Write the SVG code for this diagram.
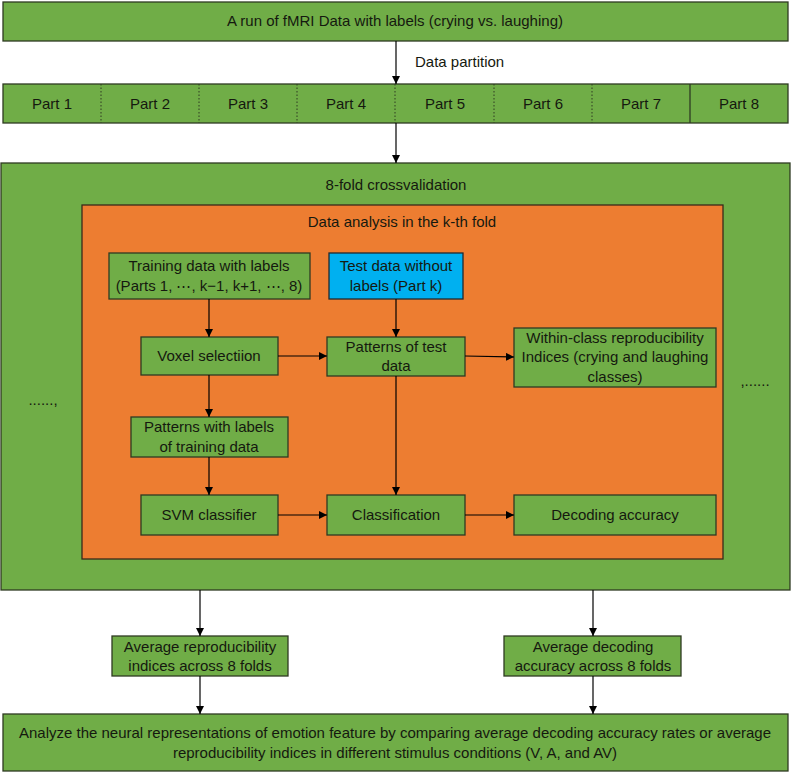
<svg xmlns="http://www.w3.org/2000/svg" width="792" height="774" viewBox="0 0 792 774">
<defs>
<marker id="ah" viewBox="0 0 10 10" refX="10" refY="5" markerWidth="8" markerHeight="8" markerUnits="userSpaceOnUse" orient="auto">
<path d="M0,0 L10,5 L0,10 z" fill="#000"/>
</marker>
<style>
.g{fill:#70AD47;stroke:#2E3B22;stroke-width:1.3}
.o{fill:#ED7D31;stroke:#3B2A1A;stroke-width:1.3}
.b{fill:#00B0F0;stroke:#1F2A30;stroke-width:1.3}
.t{font-family:"Liberation Sans",Arial,sans-serif;font-size:15px;fill:#15190F;text-anchor:middle}
.c{stroke:#000;stroke-width:1.2;fill:none;marker-end:url(#ah)}
.d{stroke:#2E3B22;stroke-width:1;stroke-dasharray:1.5,2}
</style>
</defs>
<rect width="792" height="774" fill="#fff"/>

<g id="run">
<rect class="g" x="3" y="2" width="785" height="39"/>
<text class="t" x="395" y="26">A run of fMRI Data with labels (crying vs. laughing)</text>
</g>

<g id="parts">
<rect class="g" x="3" y="84" width="785" height="39"/>
<line class="d" x1="101" y1="84" x2="101" y2="123"/>
<line class="d" x1="199" y1="84" x2="199" y2="123"/>
<line class="d" x1="297" y1="84" x2="297" y2="123"/>
<line class="d" x1="395" y1="84" x2="395" y2="123"/>
<line class="d" x1="494" y1="84" x2="494" y2="123"/>
<line class="d" x1="592" y1="84" x2="592" y2="123"/>
<line x1="690" y1="84" x2="690" y2="123" stroke="#2E3B22" stroke-width="1.3"/>
<text class="t" x="52" y="109">Part 1</text>
<text class="t" x="150" y="109">Part 2</text>
<text class="t" x="248" y="109">Part 3</text>
<text class="t" x="346" y="109">Part 4</text>
<text class="t" x="445" y="109">Part 5</text>
<text class="t" x="543" y="109">Part 6</text>
<text class="t" x="641" y="109">Part 7</text>
<text class="t" x="739" y="109">Part 8</text>
</g>

<g id="crossvalidation">
<rect class="g" x="1" y="163" width="789" height="427"/>
<text class="t" x="396" y="190">8-fold crossvalidation</text>
<text class="t" x="43" y="405">......,</text>
<text class="t" x="755" y="386">,......</text>
</g>

<g id="fold">
<rect class="o" x="82" y="205" width="641" height="354"/>
<text class="t" x="402" y="227">Data analysis in the k-th fold</text>
</g>

<g id="training">
<rect class="g" x="109" y="253" width="201" height="46"/>
<text class="t" x="209" y="271">Training data with labels</text>
<text class="t" x="209" y="291">(Parts 1, ⋯, k−1, k+1, ⋯, 8)</text>
</g>

<g id="test">
<rect class="b" x="329" y="253" width="134" height="46"/>
<text class="t" x="396" y="271">Test data without</text>
<text class="t" x="396" y="291">labels (Part k)</text>
</g>

<g id="voxel">
<rect class="g" x="141" y="337" width="137" height="38"/>
<text class="t" x="209" y="361">Voxel selectiion</text>
</g>

<g id="patterns-test">
<rect class="g" x="327" y="337" width="138" height="39"/>
<text class="t" x="396" y="352">Patterns of test</text>
<text class="t" x="396" y="371">data</text>
</g>

<g id="within-class">
<rect class="g" x="514" y="328" width="202" height="59"/>
<text class="t" x="615" y="343">Within-class reproducibility</text>
<text class="t" x="615" y="362">Indices (crying and laughing</text>
<text class="t" x="615" y="382">classes)</text>
</g>

<g id="patterns-train">
<rect class="g" x="131" y="417" width="157" height="40"/>
<text class="t" x="209" y="432">Patterns with labels</text>
<text class="t" x="209" y="452">of training data</text>
</g>

<g id="svm">
<rect class="g" x="141" y="495" width="137" height="40"/>
<text class="t" x="209" y="520">SVM classifier</text>
</g>

<g id="classification">
<rect class="g" x="327" y="495" width="138" height="40"/>
<text class="t" x="396" y="520">Classification</text>
</g>

<g id="decoding">
<rect class="g" x="514" y="495" width="202" height="40"/>
<text class="t" x="615" y="520">Decoding accuracy</text>
</g>

<g id="avg-repro">
<rect class="g" x="112" y="636" width="176" height="40"/>
<text class="t" x="200" y="652">Average reproducibility</text>
<text class="t" x="200" y="671">indices across 8 folds</text>
</g>

<g id="avg-decoding">
<rect class="g" x="504" y="636" width="177" height="40"/>
<text class="t" x="593" y="652">Average decoding</text>
<text class="t" x="593" y="671">accuracy across 8 folds</text>
</g>

<g id="analyze">
<rect class="g" x="3" y="714" width="785" height="57"/>
<text class="t" x="395" y="738">Analyze the neural representations of emotion feature by comparing average decoding accuracy rates or average</text>
<text class="t" x="395" y="758">reproducibility indices in different stimulus conditions (V, A, and AV)</text>
</g>

<g id="connectors">
<line class="c" x1="396" y1="41" x2="396" y2="84"/>
<text class="t" x="415" y="67" style="text-anchor:start">Data partition</text>
<line class="c" x1="396" y1="123" x2="396" y2="163"/>
<line class="c" x1="209" y1="299" x2="209" y2="337"/>
<line class="c" x1="396" y1="299" x2="396" y2="337"/>
<line class="c" x1="278" y1="356" x2="327" y2="356"/>
<line class="c" x1="465" y1="356" x2="514" y2="357"/>
<line class="c" x1="209" y1="375" x2="209" y2="417"/>
<line class="c" x1="396" y1="376" x2="396" y2="495"/>
<line class="c" x1="209" y1="457" x2="209" y2="495"/>
<line class="c" x1="278" y1="515" x2="327" y2="515"/>
<line class="c" x1="465" y1="515" x2="514" y2="515"/>
<line class="c" x1="200" y1="590" x2="200" y2="636"/>
<line class="c" x1="593" y1="590" x2="593" y2="636"/>
<line class="c" x1="200" y1="676" x2="200" y2="714"/>
<line class="c" x1="593" y1="676" x2="593" y2="714"/>
</g>
</svg>
